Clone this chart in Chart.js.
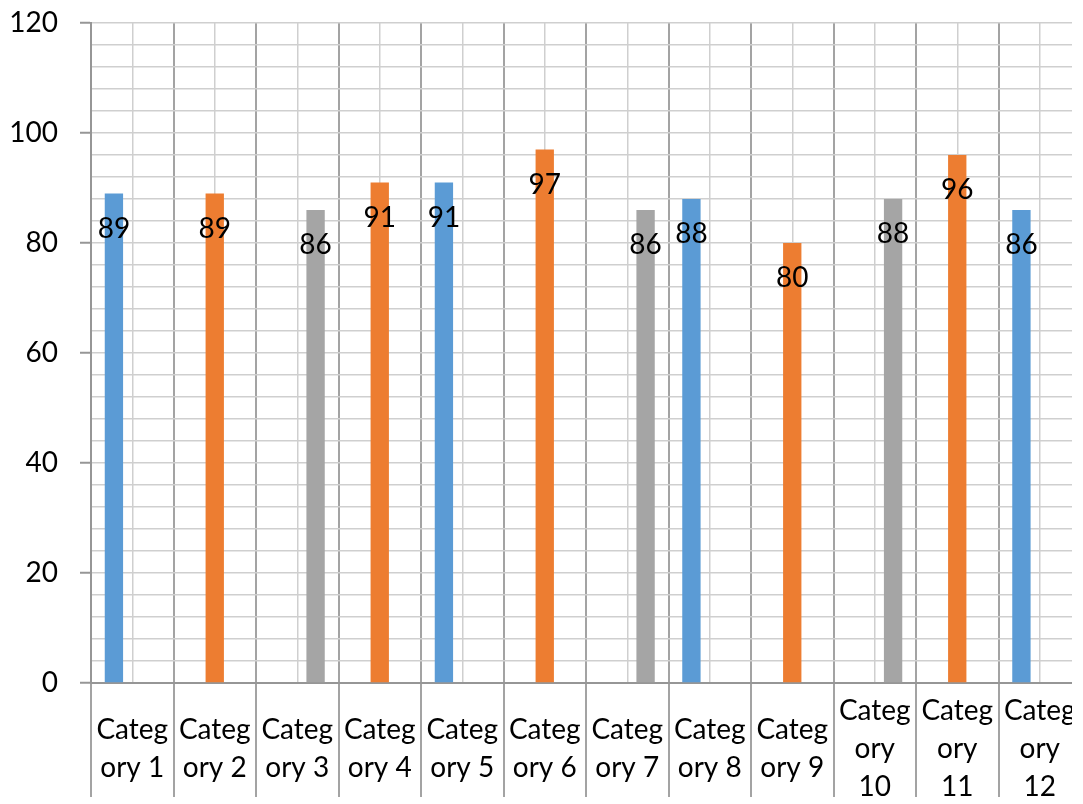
<!DOCTYPE html>
<html>
<head>
<meta charset="utf-8">
<script src="https://cdn.jsdelivr.net/npm/chart.js@4.4.1/dist/chart.umd.min.js"></script>
<style>
  html, body { margin: 0; padding: 0; background: #fff; }
  #wrap { width: 1072px; height: 804px; overflow: hidden; }
</style>
</head>
<body>
<div id="wrap"><canvas id="myChart" width="1090" height="804"></canvas></div>
<script>
// Datos del grafico
const categories = ['Category 1', 'Category 2', 'Category 3', 'Category 4', 'Category 5', 'Category 6',
                    'Category 7', 'Category 8', 'Category 9', 'Category 10', 'Category 11', 'Category 12'];
const tickLabels = [['Categ', 'ory 1'], ['Categ', 'ory 2'], ['Categ', 'ory 3'], ['Categ', 'ory 4'],
                    ['Categ', 'ory 5'], ['Categ', 'ory 6'], ['Categ', 'ory 7'], ['Categ', 'ory 8'],
                    ['Categ', 'ory 9'], ['Categ', 'ory', '10'], ['Categ', 'ory', '11'], ['Categ', 'ory', '12']];
const blueValues   = [89, null, null, null, 91, null, null, 88, null, null, null, 86];
const orangeValues = [null, 89, null, 91, null, 97, null, null, 80, null, 96, null];
const grayValues   = [null, null, 86, null, null, null, 86, null, null, 88, null, null];
const yTicks = [0, 20, 40, 60, 80, 100, 120];

Chart.defaults.font.family = 'Lato';
Chart.defaults.color = '#000';

// Etiquetas de valor dentro de la barra
const valueLabels = {
    id: 'valueLabels',
    afterDatasetsDraw(chart) {
        const ctx = chart.ctx;
        ctx.save();
        ctx.font = '28px Lato';
        ctx.fillStyle = '#000';
        ctx.textAlign = 'center';
        ctx.textBaseline = 'middle';
        chart.data.datasets.forEach((ds, i) => {
            chart.getDatasetMeta(i).data.forEach((bar, j) => {
                if (ds.data[j] === null) return;
                ctx.fillText(String(ds.data[j]), bar.x, bar.y + 35);
            });
        });
        ctx.restore();
    }
};

const ctx = document.getElementById('myChart').getContext('2d');
new Chart(ctx, {
    type: 'bar',
    data: {
        labels: categories,
        datasets: [
            { label: 'Series 1', data: blueValues, backgroundColor: '#5B9BD5' },
            { label: 'Series 2', data: orangeValues, backgroundColor: '#ED7D31' },
            { label: 'Series 3', data: grayValues, backgroundColor: '#A5A5A5' }
        ]
    },
    options: {
        responsive: false,
        animation: false,
        devicePixelRatio: 1,
        categoryPercentage: 3 / 4.5,
        barPercentage: 1,
        layout: { padding: { top: 23, right: 9, bottom: 0, left: 0 } },
        plugins: { legend: { display: false }, tooltip: { enabled: false } },
        scales: {
            x: {
                type: 'category',
                offset: true,
                grid: { offset: true, color: '#A3A3A3', lineWidth: 2, tickColor: '#A3A3A3', tickWidth: 2, tickLength: 114 },
                border: { color: '#969696', width: 2 },
                ticks: {
                    autoSkip: false,
                    maxRotation: 0,
                    crossAlign: 'center',
                    padding: -86,
                    font: { size: 28, lineHeight: 38 / 28 },
                    callback: (v, i) => tickLabels[i]
                },
                afterFit: s => { s.height = 121; }
            },
            x2: {
                type: 'category',
                position: 'bottom',
                offset: true,
                grid: { offset: false, color: '#CFCFCF', lineWidth: 1.5, drawTicks: false },
                border: { display: false },
                ticks: { display: false },
                afterFit: s => { s.height = 0; }
            },
            y: {
                min: 0,
                max: 120,
                grid: {
                    color: '#CFCFCF',
                    lineWidth: 1.5,
                    tickLength: 11,
                    tickWidth: 2,
                    tickColor: c => yTicks.includes(c.tick.value) ? '#969696' : 'rgba(0,0,0,0)'
                },
                border: { color: '#969696', width: 2 },
                ticks: {
                    stepSize: 4,
                    autoSkip: false,
                    padding: 22,
                    font: { size: 28 },
                    callback: v => yTicks.includes(v) ? v : ''
                },
                afterFit: s => { s.width = 91; s.paddingTop = 0; s.paddingBottom = 0; }
            }
        }
    },
    plugins: [valueLabels]
});
</script>
</body>
</html>
